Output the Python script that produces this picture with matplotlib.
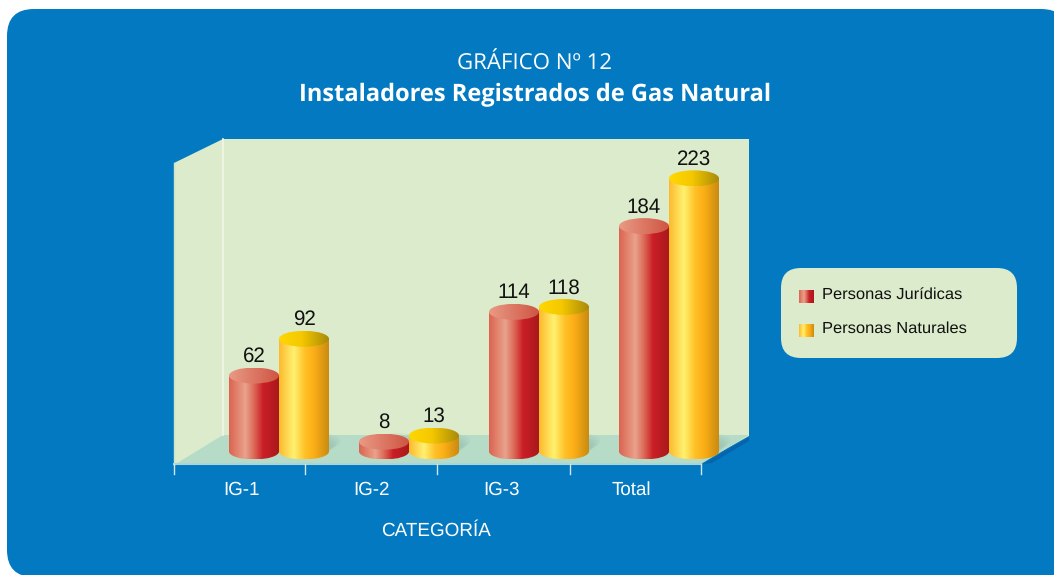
import numpy as np
import matplotlib
matplotlib.use('Agg')
import matplotlib.pyplot as plt
from matplotlib.colors import LinearSegmentedColormap
from matplotlib.patches import FancyBboxPatch, Polygon, Ellipse, PathPatch
from matplotlib.path import Path

plt.rcParams['text.hinting'] = 'none'

# datos del grafico
categorias = ['IG-1', 'IG-2', 'IG-3', 'Total']
juridicas = [62, 8, 114, 184]
naturales = [92, 13, 118, 223]
series = ['Personas Jurídicas', 'Personas Naturales']

W, H = 1054, 575
AZUL = '#0279c1'
VERDE = '#dbebcb'

rojo = LinearSegmentedColormap.from_list('rojo', [(0, '#db6450'), (.33, '#e9a28c'), (.5, '#dc6a58'), (.68, '#cb1f27'), (1, '#a9181c')])
amarillo = LinearSegmentedColormap.from_list('amarillo', [(0, '#fdb92c'), (.3, '#fff170'), (.52, '#ffc127'), (.7, '#fcae17'), (1, '#c98b10')])
rojo_tapa = LinearSegmentedColormap.from_list('rojo_tapa', [(0, '#e99a85'), (1, '#cf5543')])
amarillo_tapa = LinearSegmentedColormap.from_list('amarillo_tapa', [(0, '#ffd800'), (.45, '#f5c800'), (1, '#a98a0a')])
grad = np.linspace(0, 1, 256).reshape(1, -1)

fig = plt.figure(figsize=(W / 100, H / 100), dpi=100, facecolor='white')

# fondo en pixeles
bg = fig.add_axes([0, 0, 1, 1])
bg.set_xlim(0, W)
bg.set_ylim(H, 0)
bg.axis('off')
bg.add_patch(FancyBboxPatch((7, 9), 1061, 568, boxstyle='round,pad=0,rounding_size=27', fc=AZUL, ec='none'))
bg.add_patch(Polygon([(174, 163), (223, 139), (749, 139), (749, 436), (701, 463), (174, 465)], fc=VERDE, ec='none'))
bg.add_patch(Polygon([(174, 465), (223, 435), (749, 435), (701, 464)], fc='#b6dcc8', ec='none'))
bg.add_patch(Polygon([(703, 464), (749, 437), (749, 441), (712, 463)], fc='#0764ac', ec='none'))
bg.plot([223, 223], [139, 435], color='#f2f7ea', lw=1.2)
bg.plot([174, 174], [163, 465], color='#cfe5c5', lw=1)
bg.plot([174, 701], [464, 464], color='#a9d5d6', lw=1.5)
for xt in [174, 305, 437, 570, 701]:
    bg.plot([xt, xt], [464, 474], color='#cfe6ee', lw=1)

bg.text(535, 64, 'GRÁFICO Nº 12', color='white', fontsize=16, family='Open Sans', ha='center', va='center')
bg.text(535, 95, 'Instaladores Registrados de Gas Natural', color='white', fontsize=17.05, family='Open Sans', weight='bold', ha='center', va='center')
bg.text(435.5, 531, 'CATEGORÍA', color='white', fontsize=13.6, family='Liberation Sans', ha='center', va='center')

# caja de la leyenda
bg.add_patch(FancyBboxPatch((781, 268), 236, 90, boxstyle='round,pad=0,rounding_size=20', fc=VERDE, ec='none'))
for yl, cm, nombre in zip([293, 327], [rojo, amarillo], series):
    bg.imshow(grad, cmap=cm, extent=(799, 814, yl + 10, yl - 3), aspect='auto', zorder=3)
    bg.text(822, yl + 2, nombre, color='#111111', fontsize=11.85, family='Liberation Sans', ha='left', va='center', zorder=3)
bg.set_xlim(0, W)
bg.set_ylim(H, 0)

# ejes de datos: cada categoria ocupa 130 px y cada unidad 1.225 px
x0_px, base_px, px_x, px_y = 279, 451.5, 130, 1.225
ax = fig.add_axes([0, 0, 1, 1], facecolor='none')
ax.set_xlim(-x0_px / px_x, (W - x0_px) / px_x)
ax.set_ylim(-(H - base_px) / px_y, base_px / px_y)
ax.axis('off')

ancho = 50 / px_x
dy = 8 / px_y


def cilindro(xc, valor, cm, cm_tapa):
    x1, x2 = xc - ancho / 2, xc + ancho / 2
    # sombra suave sobre el piso
    for s in range(1, 8):
        ax.add_patch(Ellipse((xc + s * 2 / px_x, s * 1.5 / px_y), ancho * .9, 2 * dy, fc='#7fa99e', ec='none', alpha=.09, zorder=2))
    k = 0.5523
    w = ancho / 2
    verts = [(x1, valor), (x1, 0),
             (x1, -k * dy), (xc - k * w, -dy), (xc, -dy),
             (xc + k * w, -dy), (x2, -k * dy), (x2, 0),
             (x2, valor), (x1, valor)]
    codes = [Path.MOVETO, Path.LINETO, Path.CURVE4, Path.CURVE4, Path.CURVE4, Path.CURVE4, Path.CURVE4, Path.CURVE4, Path.LINETO, Path.CLOSEPOLY]
    cuerpo = PathPatch(Path(verts, codes), fc='none', ec='none', transform=ax.transData)
    ax.add_patch(cuerpo)
    im = ax.imshow(grad, cmap=cm, extent=(x1, x2, -dy, valor), aspect='auto', zorder=3)
    im.set_clip_path(cuerpo)
    tapa = Ellipse((xc, valor), ancho, 2 * dy, fc='none', ec='none', transform=ax.transData)
    ax.add_patch(tapa)
    im2 = ax.imshow(grad, cmap=cm_tapa, extent=(x1, x2, valor - dy, valor + dy), aspect='auto', zorder=4)
    im2.set_clip_path(tapa)
    ax.text(xc, valor + dy + 11 / px_y, str(valor), color='#111111', fontsize=14.8, family='Liberation Sans', ha='center', va='center', zorder=5)


posiciones = np.arange(len(categorias))
for i in posiciones:
    cilindro(i - 25 / px_x, juridicas[i], rojo, rojo_tapa)
    cilindro(i + 25 / px_x, naturales[i], amarillo, amarillo_tapa)
    ax.text(i - 38 / px_x, -38.5 / px_y, categorias[i], color='white', fontsize=13.5, family='Liberation Sans', ha='center', va='center')

ax.set_xlim(-x0_px / px_x, (W - x0_px) / px_x)
ax.set_ylim(-(H - base_px) / px_y, base_px / px_y)

fig.savefig('out.png', dpi=100, facecolor='white')
